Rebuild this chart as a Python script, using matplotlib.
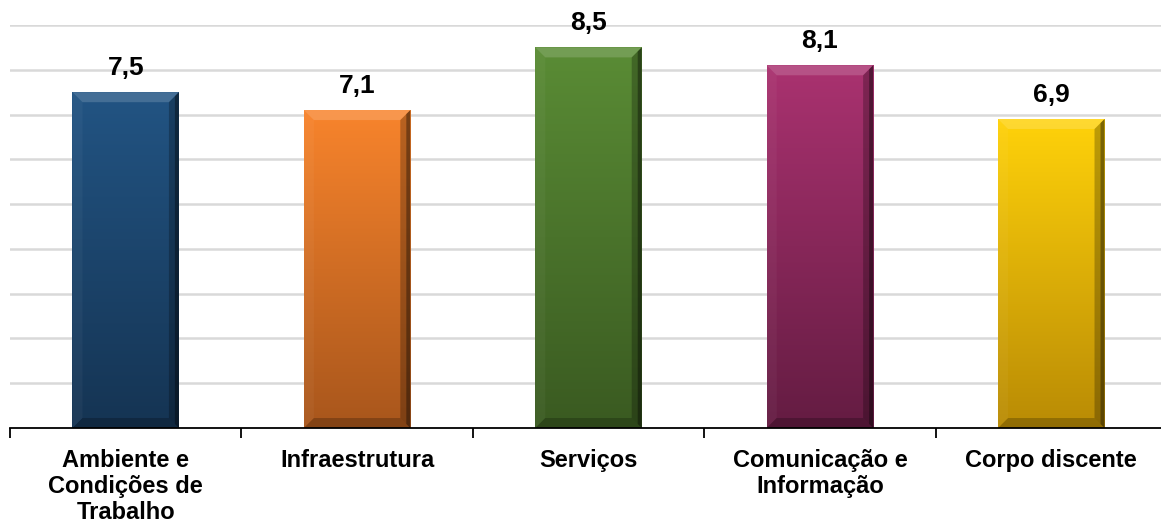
import numpy as np
import matplotlib
matplotlib.use("Agg")
import matplotlib.pyplot as plt
from matplotlib.colors import LinearSegmentedColormap
from matplotlib.patches import Polygon

categories = ["Ambiente e\nCondições de\nTrabalho", "Infraestrutura", "Serviços",
              "Comunicação e\nInformação", "Corpo discente"]
values = [7.5, 7.1, 8.5, 8.1, 6.9]
value_labels = ["7,5", "7,1", "8,5", "8,1", "6,9"]
top_colors = ["#225483", "#F8842C", "#5A8C35", "#AA3270", "#FFD20A"]
bottom_colors = ["#153453", "#A8561C", "#3A5A21", "#641C42", "#B98B05"]

plt.rcParams['font.family'] = ['Liberation Sans', 'DejaVu Sans']

fig = plt.figure(figsize=(11.61, 5.22), dpi=100)
ax = fig.add_axes([10/1161, 94/522, 1157/1161, (428-25)/522])
ax.set_xlim(-0.5, len(values) - 0.5)
ax.set_ylim(0, 9)

x = np.arange(len(values))
width = 0.46
bars = ax.bar(x, values, width=width, color="none", edgecolor="none", zorder=3)

fig.canvas.draw()
p0 = ax.transData.transform((0, 0))
p1 = ax.transData.transform((1, 1))
px_x = 1.0 / (p1[0] - p0[0])
px_y = 1.0 / (p1[1] - p0[1])
bx = 10 * px_x
by = 10 * px_y

for i, (b, v) in enumerate(zip(bars, values)):
    x0 = b.get_x()
    x1 = x0 + b.get_width()
    cmap = LinearSegmentedColormap.from_list("g%d" % i, [bottom_colors[i], top_colors[i]])
    grad = np.linspace(1, 0, 256).reshape(-1, 1)
    im = ax.imshow(grad, extent=(x0, x1, 0, v), aspect='auto', cmap=cmap,
                   vmin=0, vmax=1, zorder=3, interpolation='bilinear')
    im.set_clip_path(b)
    ax.add_patch(Polygon([(x0, v), (x1, v), (x1 - bx, v - by), (x0 + bx, v - by)],
                         closed=True, facecolor="white", alpha=0.16, edgecolor="none", zorder=4))
    ax.add_patch(Polygon([(x0, 0), (x0, v), (x0 + bx, v - by), (x0 + bx, by)],
                         closed=True, facecolor="white", alpha=0.04, edgecolor="none", zorder=4))
    ax.add_patch(Polygon([(x1, 0), (x1, v), (x1 - bx, v - by), (x1 - bx, by)],
                         closed=True, facecolor="black", alpha=0.25, edgecolor="none", zorder=4))
    ax.add_patch(Polygon([(x1, 0), (x1, v), (x1 - 4 * px_x, v - 4 * px_y), (x1 - 4 * px_x, 4 * px_y)],
                         closed=True, facecolor="black", alpha=0.35, edgecolor="none", zorder=4))
    ax.add_patch(Polygon([(x0, 0), (x1, 0), (x1 - bx, by), (x0 + bx, by)],
                         closed=True, facecolor="black", alpha=0.22, edgecolor="none", zorder=4))
    ax.annotate(value_labels[i], (b.get_x() + b.get_width() / 2, v), xytext=(0, 9),
                textcoords="offset points", ha="center", va="bottom",
                fontsize=19, fontweight="bold", color="black", annotation_clip=False)

ax.set_xlim(-0.5, len(values) - 0.5)
ax.set_ylim(0, 9)

ax.set_yticks(np.arange(1, 10, 1))
ax.yaxis.grid(True, color="#D9D9D9", linewidth=1.8, zorder=0)
ax.tick_params(axis='y', left=False, labelleft=False)
ax.set_axisbelow(True)

for s in ["top", "right", "left"]:
    ax.spines[s].set_visible(False)
ax.spines["bottom"].set_color("black")
ax.spines["bottom"].set_linewidth(1.3)
ax.spines["bottom"].set_zorder(5)

ax.set_xticks(x)
ax.set_xticklabels(categories, fontsize=17, fontweight="bold", linespacing=1.17)
ax.tick_params(axis='x', which='major', length=0, pad=15)
ax.set_xticks(np.arange(-0.5, len(values), 1), minor=True)
ax.tick_params(axis='x', which='minor', length=7, width=1.3, color="black")

fig.savefig("out.png", dpi=100, facecolor="white")
